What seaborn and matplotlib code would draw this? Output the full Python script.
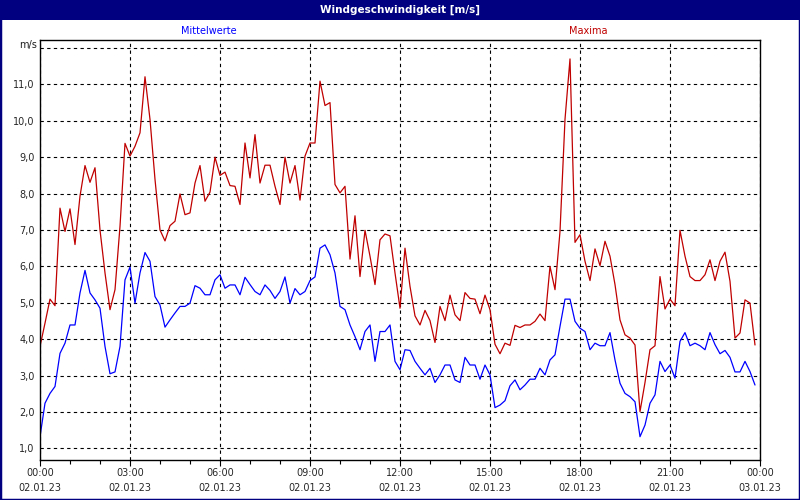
import numpy as np
import pandas as pd
import matplotlib
matplotlib.use("Agg")
import matplotlib.pyplot as plt
import matplotlib.dates as mdates
from matplotlib.patches import Rectangle
import seaborn as sns

# ---- data (10-minute values, 02.01.23 00:00 .. 23:50) ----
start_time = "2023-01-02 00:00"
mittelwerte = [
    1.32, 2.24, 2.51, 2.70, 3.61, 3.89, 4.39, 4.39, 5.27, 5.89,
    5.27, 5.08, 4.85, 3.80, 3.05, 3.10, 3.80, 5.63, 5.98, 4.99,
    5.82, 6.38, 6.14, 5.17, 4.94, 4.33, 4.53, 4.72, 4.90, 4.90,
    4.99, 5.47, 5.40, 5.22, 5.22, 5.63, 5.77,
    5.40, 5.49, 5.49, 5.22, 5.70, 5.50, 5.31, 5.22, 5.49, 5.34,
    5.12, 5.31, 5.71, 4.99, 5.39, 5.22, 5.31, 5.61, 5.71, 6.50,
    6.59, 6.32, 5.82, 4.90, 4.81, 4.39, 4.07, 3.71, 4.21, 4.39,
    3.39, 4.21, 4.21, 4.39, 3.39, 3.16,
    3.71, 3.69, 3.39, 3.20, 3.02, 3.20, 2.81, 3.02, 3.29, 3.29,
    2.88, 2.81, 3.50, 3.29, 3.29, 2.90, 3.29, 3.02, 2.12, 2.19,
    2.31, 2.72, 2.88, 2.61, 2.74, 2.90, 2.90, 3.20, 3.02, 3.43,
    3.57, 4.35, 5.10, 5.10, 4.49, 4.30,
    4.21, 3.71, 3.89, 3.82, 3.82, 4.18, 3.43, 2.79, 2.51, 2.42,
    2.28, 1.32, 1.64, 2.24, 2.47, 3.39, 3.11, 3.29, 2.93, 3.94,
    4.18, 3.82, 3.89, 3.82, 3.71, 4.18, 3.85, 3.60, 3.69, 3.50,
    3.10, 3.10, 3.39, 3.11, 2.74,
]
maxima = [
    3.80, 4.44, 5.10, 4.92, 7.60, 6.96, 7.58, 6.60, 7.93, 8.77,
    8.31, 8.71, 7.00, 5.82, 4.81, 5.36, 7.10, 9.38, 9.03, 9.30,
    9.67, 11.21, 10.04, 8.39, 7.00, 6.70, 7.12, 7.24, 7.99, 7.42,
    7.47, 8.29, 8.77, 7.79, 8.04, 9.00, 8.50,
    8.59, 8.22, 8.20, 7.70, 9.39, 8.43, 9.62, 8.29, 8.78, 8.78,
    8.20, 7.70, 9.00, 8.29, 8.77, 7.82, 9.03, 9.39, 9.39, 11.09,
    10.42, 10.50, 8.25, 8.02, 8.20, 6.20, 7.39, 5.72, 6.99, 6.28,
    5.50, 6.73, 6.89, 6.84, 5.82, 4.85,
    6.50, 5.45, 4.64, 4.39, 4.79, 4.51, 3.91, 4.90, 4.51, 5.21,
    4.67, 4.51, 5.28, 5.12, 5.10, 4.70, 5.21, 4.81, 3.86, 3.60,
    3.89, 3.83, 4.38, 4.32, 4.39, 4.39, 4.49, 4.69, 4.51, 6.00,
    5.36, 6.96, 10.04, 11.70, 6.66, 6.87,
    6.14, 5.61, 6.48, 6.02, 6.69, 6.28, 5.50, 4.53, 4.12, 4.03,
    3.84, 2.01, 2.81, 3.71, 3.82, 5.72, 4.83, 5.10, 4.92, 6.99,
    6.28, 5.72, 5.61, 5.61, 5.77, 6.18, 5.61, 6.14, 6.39, 5.59,
    4.03, 4.17, 5.08, 4.99, 3.84,
]
y_ticks = [1, 2, 3, 4, 5, 6, 7, 8, 9, 10, 11]
y_tick_labels = ["1,0", "2,0", "3,0", "4,0", "5,0", "6,0", "7,0", "8,0", "9,0", "10,0", "11,0"]
title = "Windgeschwindigkeit [m/s]"
label_mean = "Mittelwerte"
label_max = "Maxima"
unit = "m/s"

times = pd.date_range(start_time, periods=len(mittelwerte), freq="10min")
df = pd.DataFrame({"Zeit": times, "Mittelwerte": mittelwerte, "Maxima": maxima})

# ---- style ----
sns.set_style("white")
plt.rcParams["font.family"] = ["DejaVu Sans"]

NAVY = "#000080"
BLUE = "#0000FF"
RED = "#C00000"

fig = plt.figure(figsize=(8, 5), dpi=100)
fig.patch.set_facecolor("white")
ax = fig.add_axes([0.05, 0.08, 0.90, 0.84])

sns.lineplot(data=df, x="Zeit", y="Maxima", ax=ax, color=RED, linewidth=0.9)
sns.lineplot(data=df, x="Zeit", y="Mittelwerte", ax=ax, color=BLUE, linewidth=0.9)

ax.set_xlim(pd.Timestamp("2023-01-02 00:00"), pd.Timestamp("2023-01-03 00:00"))
ax.set_ylim(0.68, 12.22)
ax.set_xlabel("")
ax.set_ylabel("")

ax.xaxis.set_major_locator(mdates.HourLocator(byhour=range(0, 24, 3)))
ax.xaxis.set_minor_locator(mdates.HourLocator())
ax.xaxis.set_major_formatter(mdates.DateFormatter("%H:%M\n%d.%m.%y"))
ax.set_yticks(y_ticks + [12])
ax.set_yticklabels(y_tick_labels + [""])

ax.tick_params(axis="x", which="major", direction="out", length=4, width=0.8,
               color="black", labelsize=7, pad=2, bottom=True)
ax.tick_params(axis="x", which="minor", direction="out", length=3, width=0.8,
               color="black", bottom=True)
ax.tick_params(axis="y", which="major", length=0, labelsize=7, pad=4)
for lab in ax.get_xticklabels():
    lab.set_linespacing(1.6)

ax.grid(True, which="major", axis="both", color="black", linestyle=(0, (3, 3)), linewidth=0.8)
for s in ax.spines.values():
    s.set_visible(True)
    s.set_color("black")
    s.set_linewidth(1.0)

# unit label
fig.text(37 / 800, 1 - 45 / 500, unit, ha="right", va="center", fontsize=7, color="#202020")

# title bar
fig.patches.append(Rectangle((0, 1 - 20 / 500), 1, 20 / 500, transform=fig.transFigure,
                             facecolor=NAVY, edgecolor="none", zorder=0))
fig.text(0.5, 1 - 10 / 500, title, ha="center", va="center", fontsize=7.5,
         fontweight="bold", color="white")

# series labels
fig.text(209 / 800, 1 - 31 / 500, label_mean, ha="center", va="center", fontsize=7, color=BLUE)
fig.text(588 / 800, 1 - 31 / 500, label_max, ha="center", va="center", fontsize=7, color=RED)

# navy border around figure
fig.patches.append(Rectangle((0, 0), 1, 1, transform=fig.transFigure, facecolor="none",
                             edgecolor=NAVY, linewidth=2.5, zorder=10))

fig.savefig("out.png", dpi=100)
